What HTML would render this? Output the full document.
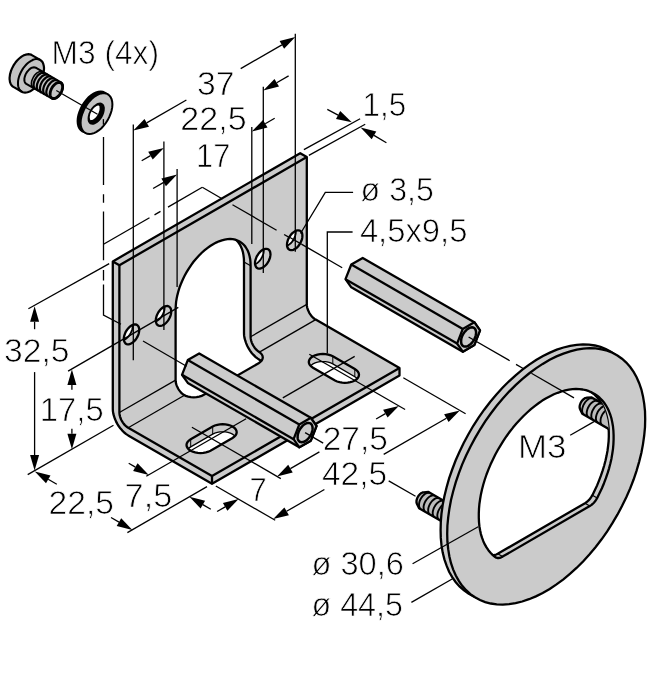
<!DOCTYPE html>
<html><head><meta charset="utf-8"><title>drawing</title>
<style>
html,body{margin:0;padding:0;background:#fff;}
svg{display:block;filter:grayscale(1);}
text{font-family:"Liberation Sans",sans-serif;fill:#000;}
</style></head><body>
<svg width="654" height="700" viewBox="0 0 654 700">
<rect width="654" height="700" fill="#fff"/>
<path d="M112.8 261.4 L300.2 153.2 L306.8 157.1 L306.8 304.4 L306.9 305.7 L307.1 307.2 L307.5 308.7 L308 310.1 L308.7 311.6 L309.4 313.1 L310.3 314.4 L311.2 315.7 L312.3 316.9 L313.4 318 L314.5 318.9 L315.7 319.6 L399.5 368 L399.5 375.6 L212 483.8 L128.2 435.4 L126.2 434.1 L124.2 432.5 L122.3 430.6 L120.5 428.6 L118.8 426.3 L117.3 423.9 L116 421.4 L114.9 418.8 L114 416.2 L113.3 413.6 L112.9 411.1 L112.8 408.7Z" fill="#cbcbcb" stroke="none"/>
<path d="M203.9 394.8 L201.7 395.9 L199.2 396.6 L196.5 397.1 L193.7 397.3 L190.9 397.1 L188.2 396.6 L185.8 395.9 L183.6 394.8 L184.5 395.3 L183.3 394.6 L182.2 393.7 L181.1 392.6 L180.1 391.4 L179.1 390.1 L178.2 388.8 L177.5 387.3 L176.8 385.9 L176.3 384.4 L175.9 382.9 L175.7 381.5 L175.6 380.1 L175.6 309 L175.8 305.5 L176.1 301.9 L176.7 298.3 L177.5 294.6 L178.5 290.8 L179.7 287 L181.2 283.2 L182.8 279.5 L184.6 275.7 L186.6 272.1 L188.8 268.6 L191.1 265.1 L193.5 261.8 L196.1 258.7 L198.8 255.7 L201.5 253 L204.4 250.4 L207.3 248.1 L210.2 246 L213.1 244.2 L216.1 242.6 L219 241.3 L221.9 240.3 L224.7 239.6 L227.5 239.2 L230.1 239 L232.7 239.2 L235.2 239.7 L237.5 240.5 L239.6 241.5 L241.6 242.8 L243.5 244.5 L245.1 246.3 L246.5 248.5 L247.8 250.8 L248.8 253.4 L249.6 256.2 L250.2 259.2 L250.5 262.4 L250.6 265.7 L250.6 336.8 L250.7 338.2 L250.9 339.6 L251.3 341.1 L251.8 342.6 L252.4 344.1 L253.2 345.5 L254.1 346.9 L255 348.2 L256.1 349.4 L257.1 350.4 L258.3 351.3 L259.4 352.1 L258.6 351.6 L260.3 352.8 L261.7 354.3 L262.5 355.8 L262.8 357.4 L262.5 359 L261.7 360.6 L260.3 362 L258.6 363.3Z" fill="#cbcbcb" stroke="none"/>
<clipPath id="carch"><path d="M203.9 394.8 L201.7 395.9 L199.2 396.6 L196.5 397.1 L193.7 397.3 L190.9 397.1 L188.2 396.6 L185.8 395.9 L183.6 394.8 L184.5 395.3 L183.3 394.6 L182.2 393.7 L181.1 392.6 L180.1 391.4 L179.1 390.1 L178.2 388.8 L177.5 387.3 L176.8 385.9 L176.3 384.4 L175.9 382.9 L175.7 381.5 L175.6 380.1 L175.6 309 L175.8 305.5 L176.1 301.9 L176.7 298.3 L177.5 294.6 L178.5 290.8 L179.7 287 L181.2 283.2 L182.8 279.5 L184.6 275.7 L186.6 272.1 L188.8 268.6 L191.1 265.1 L193.5 261.8 L196.1 258.7 L198.8 255.7 L201.5 253 L204.4 250.4 L207.3 248.1 L210.2 246 L213.1 244.2 L216.1 242.6 L219 241.3 L221.9 240.3 L224.7 239.6 L227.5 239.2 L230.1 239 L232.7 239.2 L235.2 239.7 L237.5 240.5 L239.6 241.5 L241.6 242.8 L243.5 244.5 L245.1 246.3 L246.5 248.5 L247.8 250.8 L248.8 253.4 L249.6 256.2 L250.2 259.2 L250.5 262.4 L250.6 265.7 L250.6 336.8 L250.7 338.2 L250.9 339.6 L251.3 341.1 L251.8 342.6 L252.4 344.1 L253.2 345.5 L254.1 346.9 L255 348.2 L256.1 349.4 L257.1 350.4 L258.3 351.3 L259.4 352.1 L258.6 351.6 L260.3 352.8 L261.7 354.3 L262.5 355.8 L262.8 357.4 L262.5 359 L261.7 360.6 L260.3 362 L258.6 363.3Z"/></clipPath>
<g clip-path="url(#carch)">
<path d="M207 415.9 L184.5 403 L182.4 401.6 L180.5 400 L178.6 398.2 L176.7 396.1 L175.1 393.9 L173.5 391.5 L172.2 388.9 L171.1 386.4 L170.2 383.8 L169.6 381.2 L169.2 378.7 L169 376.3 L169 305.2 L169.1 301.7 L169.5 298.1 L170.1 294.5 L170.9 290.7 L171.9 287 L173.1 283.2 L174.6 279.4 L176.2 275.6 L178 271.9 L180 268.3 L182.2 264.7 L184.5 261.3 L186.9 258 L189.5 254.9 L192.2 251.9 L194.9 249.1 L197.8 246.6 L200.6 244.3 L203.6 242.2 L206.5 240.3 L209.5 238.8 L212.4 237.5 L215.3 236.5 L218.1 235.8 L220.9 235.3 L223.5 235.2 L226.1 235.4 L228.5 235.9 L230.9 236.6 L233 237.7 L235 239 L236.8 240.6 L238.5 242.5 L239.9 244.6 L241.1 247 L242.2 249.6 L243 252.4 L243.5 255.4 L243.9 258.6 L244 261.9 L244 333 L244.1 335.4 L244.5 337.9 L245.2 340.5 L246.1 343.1 L247.2 345.7 L248.5 348.2 L250 350.6 L251.7 352.9 L253.5 354.9 L255.4 356.8 L257.4 358.4 L259.4 359.7 L281.9 372.7Z" fill="#fff" stroke="#000" stroke-width="2.3"/>
</g>
<path d="M203.9 394.8 L201.7 395.9 L199.2 396.6 L196.5 397.1 L193.7 397.3 L190.9 397.1 L188.2 396.6 L185.8 395.9 L183.6 394.8 L184.5 395.3 L183.3 394.6 L182.2 393.7 L181.1 392.6 L180.1 391.4 L179.1 390.1 L178.2 388.8 L177.5 387.3 L176.8 385.9 L176.3 384.4 L175.9 382.9 L175.7 381.5 L175.6 380.1 L175.6 309 L175.8 305.5 L176.1 301.9 L176.7 298.3 L177.5 294.6 L178.5 290.8 L179.7 287 L181.2 283.2 L182.8 279.5 L184.6 275.7 L186.6 272.1 L188.8 268.6 L191.1 265.1 L193.5 261.8 L196.1 258.7 L198.8 255.7 L201.5 253 L204.4 250.4 L207.3 248.1 L210.2 246 L213.1 244.2 L216.1 242.6 L219 241.3 L221.9 240.3 L224.7 239.6 L227.5 239.2 L230.1 239 L232.7 239.2 L235.2 239.7 L237.5 240.5 L239.6 241.5 L241.6 242.8 L243.5 244.5 L245.1 246.3 L246.5 248.5 L247.8 250.8 L248.8 253.4 L249.6 256.2 L250.2 259.2 L250.5 262.4 L250.6 265.7 L250.6 336.8 L250.7 338.2 L250.9 339.6 L251.3 341.1 L251.8 342.6 L252.4 344.1 L253.2 345.5 L254.1 346.9 L255 348.2 L256.1 349.4 L257.1 350.4 L258.3 351.3 L259.4 352.1 L258.6 351.6 L260.3 352.8 L261.7 354.3 L262.5 355.8 L262.8 357.4 L262.5 359 L261.7 360.6 L260.3 362 L258.6 363.3Z" fill="none" stroke="#000" stroke-width="2.3"/>
<path d="M250.6 265.7 L244 261.9" stroke="#000" stroke-width="1.2" fill="none" />
<path d="M112.8 261.4 L300.2 153.2 L306.8 157.1 L306.8 304.4 L306.9 305.7 L307.1 307.2 L307.5 308.7 L308 310.1 L308.7 311.6 L309.4 313.1 L310.3 314.4 L311.2 315.7 L312.3 316.9 L313.4 318 L314.5 318.9 L315.7 319.6 L399.5 368 L399.5 375.6 L212 483.8 L128.2 435.4 L126.2 434.1 L124.2 432.5 L122.3 430.6 L120.5 428.6 L118.8 426.3 L117.3 423.9 L116 421.4 L114.9 418.8 L114 416.2 L113.3 413.6 L112.9 411.1 L112.8 408.7Z" fill="none" stroke="#000" stroke-width="2.3" stroke-linejoin="round"/>
<path d="M112.8 261.4 L119.4 265.2 L306.8 157.1" fill="none" stroke="#000" stroke-width="2.3" stroke-linejoin="round"/>
<path d="M119.4 265.2 L119.4 412.5 L119.5 413.9 L119.7 415.3 L120.1 416.8 L120.6 418.3 L121.2 419.8 L122 421.2 L122.9 422.6 L123.8 423.9 L124.9 425.1 L126 426.1 L127.1 427 L128.2 427.8 L212 476.1 L399.5 368" fill="none" stroke="#000" stroke-width="2.3" stroke-linejoin="round"/>
<path d="M212 476.1 L212 483.8" stroke="#000" stroke-width="2.3" fill="none" />
<path d="M119.4 412.5 L175.6 380.1" stroke="#000" stroke-width="1.3" fill="none" />
<path d="M250.6 336.8 L306.8 304.4" stroke="#000" stroke-width="1.3" fill="none" />
<path d="M128.2 427.8 L184.5 395.3" stroke="#000" stroke-width="1.3" fill="none" />
<path d="M259.4 352.1 L315.7 319.6" stroke="#000" stroke-width="1.3" fill="none" />
<path d="M139.3 330 L139.1 328.5 L138.8 327.2 L138.2 326.1 L137.5 325.3 L136.5 324.7 L135.4 324.5 L134.2 324.5 L132.9 324.9 L131.5 325.5 L130.2 326.4 L128.9 327.6 L127.7 328.9 L126.6 330.5 L125.6 332.1 L124.9 333.8 L124.3 335.6 L123.9 337.3 L123.8 338.9 L123.9 340.3 L124.3 341.6 L124.9 342.7 L125.6 343.5 L126.6 344.1 L127.7 344.3 L128.9 344.3 L130.2 343.9 L131.5 343.3 L132.9 342.4 L134.2 341.2 L135.4 339.9 L136.5 338.4 L137.5 336.7 L138.2 335 L138.8 333.3 L139.1 331.6 L139.3 330Z" fill="#cbcbcb" stroke="none"/>
<clipPath id="ch0"><path d="M139.3 330 L139.1 328.5 L138.8 327.2 L138.2 326.1 L137.5 325.3 L136.5 324.7 L135.4 324.5 L134.2 324.5 L132.9 324.9 L131.5 325.5 L130.2 326.4 L128.9 327.6 L127.7 328.9 L126.6 330.5 L125.6 332.1 L124.9 333.8 L124.3 335.6 L123.9 337.3 L123.8 338.9 L123.9 340.3 L124.3 341.6 L124.9 342.7 L125.6 343.5 L126.6 344.1 L127.7 344.3 L128.9 344.3 L130.2 343.9 L131.5 343.3 L132.9 342.4 L134.2 341.2 L135.4 339.9 L136.5 338.4 L137.5 336.7 L138.2 335 L138.8 333.3 L139.1 331.6 L139.3 330Z"/></clipPath>
<g clip-path="url(#ch0)">
<path d="M132.6 326.1 L132.5 324.7 L132.2 323.4 L131.6 322.3 L130.8 321.5 L129.9 320.9 L128.8 320.7 L127.6 320.7 L126.3 321.1 L124.9 321.7 L123.6 322.6 L122.3 323.8 L121.1 325.1 L120 326.7 L119 328.3 L118.2 330 L117.7 331.7 L117.3 333.4 L117.2 335.1 L117.3 336.5 L117.7 337.8 L118.2 338.9 L119 339.7 L120 340.3 L121.1 340.5 L122.3 340.5 L123.6 340.1 L124.9 339.5 L126.3 338.6 L127.6 337.4 L128.8 336.1 L129.9 334.5 L130.8 332.9 L131.6 331.2 L132.2 329.5 L132.5 327.8 L132.6 326.1Z" fill="#fff" stroke="#000" stroke-width="1.8"/>
</g>
<path d="M139.3 330 L139.1 328.5 L138.8 327.2 L138.2 326.1 L137.5 325.3 L136.5 324.7 L135.4 324.5 L134.2 324.5 L132.9 324.9 L131.5 325.5 L130.2 326.4 L128.9 327.6 L127.7 328.9 L126.6 330.5 L125.6 332.1 L124.9 333.8 L124.3 335.6 L123.9 337.3 L123.8 338.9 L123.9 340.3 L124.3 341.6 L124.9 342.7 L125.6 343.5 L126.6 344.1 L127.7 344.3 L128.9 344.3 L130.2 343.9 L131.5 343.3 L132.9 342.4 L134.2 341.2 L135.4 339.9 L136.5 338.4 L137.5 336.7 L138.2 335 L138.8 333.3 L139.1 331.6 L139.3 330Z" fill="none" stroke="#000" stroke-width="2.3"/>
<path d="M171.2 311.5 L171.1 310 L170.8 308.7 L170.2 307.7 L169.4 306.8 L168.5 306.3 L167.4 306 L166.2 306.1 L164.9 306.4 L163.5 307.1 L162.2 308 L160.9 309.1 L159.7 310.5 L158.6 312 L157.6 313.7 L156.8 315.4 L156.3 317.1 L155.9 318.8 L155.8 320.4 L155.9 321.9 L156.3 323.2 L156.8 324.3 L157.6 325.1 L158.6 325.6 L159.7 325.9 L160.9 325.8 L162.2 325.5 L163.5 324.9 L164.9 323.9 L166.2 322.8 L167.4 321.4 L168.5 319.9 L169.4 318.3 L170.2 316.6 L170.8 314.8 L171.1 313.1 L171.2 311.5Z" fill="#cbcbcb" stroke="none"/>
<clipPath id="ch1"><path d="M171.2 311.5 L171.1 310 L170.8 308.7 L170.2 307.7 L169.4 306.8 L168.5 306.3 L167.4 306 L166.2 306.1 L164.9 306.4 L163.5 307.1 L162.2 308 L160.9 309.1 L159.7 310.5 L158.6 312 L157.6 313.7 L156.8 315.4 L156.3 317.1 L155.9 318.8 L155.8 320.4 L155.9 321.9 L156.3 323.2 L156.8 324.3 L157.6 325.1 L158.6 325.6 L159.7 325.9 L160.9 325.8 L162.2 325.5 L163.5 324.9 L164.9 323.9 L166.2 322.8 L167.4 321.4 L168.5 319.9 L169.4 318.3 L170.2 316.6 L170.8 314.8 L171.1 313.1 L171.2 311.5Z"/></clipPath>
<g clip-path="url(#ch1)">
<path d="M164.6 307.7 L164.5 306.2 L164.2 304.9 L163.6 303.8 L162.8 303 L161.9 302.5 L160.8 302.2 L159.5 302.3 L158.2 302.6 L156.9 303.3 L155.6 304.2 L154.3 305.3 L153 306.7 L151.9 308.2 L151 309.8 L150.2 311.6 L149.6 313.3 L149.3 315 L149.2 316.6 L149.3 318.1 L149.6 319.4 L150.2 320.5 L151 321.3 L151.9 321.8 L153 322.1 L154.3 322 L155.6 321.7 L156.9 321 L158.2 320.1 L159.5 319 L160.8 317.6 L161.9 316.1 L162.8 314.5 L163.6 312.7 L164.2 311 L164.5 309.3 L164.6 307.7Z" fill="#fff" stroke="#000" stroke-width="1.8"/>
</g>
<path d="M171.2 311.5 L171.1 310 L170.8 308.7 L170.2 307.7 L169.4 306.8 L168.5 306.3 L167.4 306 L166.2 306.1 L164.9 306.4 L163.5 307.1 L162.2 308 L160.9 309.1 L159.7 310.5 L158.6 312 L157.6 313.7 L156.8 315.4 L156.3 317.1 L155.9 318.8 L155.8 320.4 L155.9 321.9 L156.3 323.2 L156.8 324.3 L157.6 325.1 L158.6 325.6 L159.7 325.9 L160.9 325.8 L162.2 325.5 L163.5 324.9 L164.9 323.9 L166.2 322.8 L167.4 321.4 L168.5 319.9 L169.4 318.3 L170.2 316.6 L170.8 314.8 L171.1 313.1 L171.2 311.5Z" fill="none" stroke="#000" stroke-width="2.3"/>
<path d="M270.5 254.3 L270.3 252.8 L270 251.5 L269.4 250.4 L268.7 249.6 L267.7 249 L266.6 248.8 L265.4 248.8 L264.1 249.2 L262.7 249.8 L261.4 250.7 L260.1 251.9 L258.9 253.2 L257.8 254.8 L256.8 256.4 L256.1 258.1 L255.5 259.8 L255.1 261.5 L255 263.2 L255.1 264.6 L255.5 265.9 L256.1 267 L256.8 267.8 L257.8 268.4 L258.9 268.6 L260.1 268.6 L261.4 268.2 L262.7 267.6 L264.1 266.7 L265.4 265.5 L266.6 264.2 L267.7 262.7 L268.7 261 L269.4 259.3 L270 257.6 L270.3 255.9 L270.5 254.3Z" fill="#cbcbcb" stroke="none"/>
<clipPath id="ch2"><path d="M270.5 254.3 L270.3 252.8 L270 251.5 L269.4 250.4 L268.7 249.6 L267.7 249 L266.6 248.8 L265.4 248.8 L264.1 249.2 L262.7 249.8 L261.4 250.7 L260.1 251.9 L258.9 253.2 L257.8 254.8 L256.8 256.4 L256.1 258.1 L255.5 259.8 L255.1 261.5 L255 263.2 L255.1 264.6 L255.5 265.9 L256.1 267 L256.8 267.8 L257.8 268.4 L258.9 268.6 L260.1 268.6 L261.4 268.2 L262.7 267.6 L264.1 266.7 L265.4 265.5 L266.6 264.2 L267.7 262.7 L268.7 261 L269.4 259.3 L270 257.6 L270.3 255.9 L270.5 254.3Z"/></clipPath>
<g clip-path="url(#ch2)">
<path d="M263.8 250.4 L263.7 249 L263.4 247.7 L262.8 246.6 L262 245.8 L261.1 245.2 L260 245 L258.8 245 L257.5 245.4 L256.1 246 L254.8 246.9 L253.5 248.1 L252.3 249.4 L251.2 250.9 L250.2 252.6 L249.4 254.3 L248.9 256 L248.5 257.7 L248.4 259.3 L248.5 260.8 L248.9 262.1 L249.4 263.2 L250.2 264 L251.2 264.6 L252.3 264.8 L253.5 264.8 L254.8 264.4 L256.1 263.8 L257.5 262.9 L258.8 261.7 L260 260.4 L261.1 258.8 L262 257.2 L262.8 255.5 L263.4 253.7 L263.7 252 L263.8 250.4Z" fill="#fff" stroke="#000" stroke-width="1.8"/>
</g>
<path d="M270.5 254.3 L270.3 252.8 L270 251.5 L269.4 250.4 L268.7 249.6 L267.7 249 L266.6 248.8 L265.4 248.8 L264.1 249.2 L262.7 249.8 L261.4 250.7 L260.1 251.9 L258.9 253.2 L257.8 254.8 L256.8 256.4 L256.1 258.1 L255.5 259.8 L255.1 261.5 L255 263.2 L255.1 264.6 L255.5 265.9 L256.1 267 L256.8 267.8 L257.8 268.4 L258.9 268.6 L260.1 268.6 L261.4 268.2 L262.7 267.6 L264.1 266.7 L265.4 265.5 L266.6 264.2 L267.7 262.7 L268.7 261 L269.4 259.3 L270 257.6 L270.3 255.9 L270.5 254.3Z" fill="none" stroke="#000" stroke-width="2.3"/>
<path d="M302.4 235.8 L302.3 234.3 L302 233 L301.4 232 L300.6 231.1 L299.7 230.6 L298.6 230.3 L297.4 230.4 L296.1 230.7 L294.7 231.4 L293.4 232.3 L292.1 233.4 L290.9 234.8 L289.8 236.3 L288.8 238 L288 239.7 L287.5 241.4 L287.1 243.1 L287 244.7 L287.1 246.2 L287.5 247.5 L288 248.6 L288.8 249.4 L289.8 249.9 L290.9 250.2 L292.1 250.1 L293.4 249.8 L294.7 249.1 L296.1 248.2 L297.4 247.1 L298.6 245.7 L299.7 244.2 L300.6 242.6 L301.4 240.8 L302 239.1 L302.3 237.4 L302.4 235.8Z" fill="#cbcbcb" stroke="none"/>
<clipPath id="ch3"><path d="M302.4 235.8 L302.3 234.3 L302 233 L301.4 232 L300.6 231.1 L299.7 230.6 L298.6 230.3 L297.4 230.4 L296.1 230.7 L294.7 231.4 L293.4 232.3 L292.1 233.4 L290.9 234.8 L289.8 236.3 L288.8 238 L288 239.7 L287.5 241.4 L287.1 243.1 L287 244.7 L287.1 246.2 L287.5 247.5 L288 248.6 L288.8 249.4 L289.8 249.9 L290.9 250.2 L292.1 250.1 L293.4 249.8 L294.7 249.1 L296.1 248.2 L297.4 247.1 L298.6 245.7 L299.7 244.2 L300.6 242.6 L301.4 240.8 L302 239.1 L302.3 237.4 L302.4 235.8Z"/></clipPath>
<g clip-path="url(#ch3)">
<path d="M295.8 232 L295.7 230.5 L295.3 229.2 L294.8 228.1 L294 227.3 L293.1 226.8 L292 226.5 L290.7 226.6 L289.4 226.9 L288.1 227.5 L286.8 228.5 L285.5 229.6 L284.2 231 L283.1 232.5 L282.2 234.1 L281.4 235.8 L280.8 237.6 L280.5 239.3 L280.4 240.9 L280.5 242.4 L280.8 243.7 L281.4 244.7 L282.2 245.6 L283.1 246.1 L284.2 246.4 L285.5 246.3 L286.8 246 L288.1 245.3 L289.4 244.4 L290.7 243.3 L292 241.9 L293.1 240.4 L294 238.7 L294.8 237 L295.3 235.3 L295.7 233.6 L295.8 232Z" fill="#fff" stroke="#000" stroke-width="1.8"/>
</g>
<path d="M302.4 235.8 L302.3 234.3 L302 233 L301.4 232 L300.6 231.1 L299.7 230.6 L298.6 230.3 L297.4 230.4 L296.1 230.7 L294.7 231.4 L293.4 232.3 L292.1 233.4 L290.9 234.8 L289.8 236.3 L288.8 238 L288 239.7 L287.5 241.4 L287.1 243.1 L287 244.7 L287.1 246.2 L287.5 247.5 L288 248.6 L288.8 249.4 L289.8 249.9 L290.9 250.2 L292.1 250.1 L293.4 249.8 L294.7 249.1 L296.1 248.2 L297.4 247.1 L298.6 245.7 L299.7 244.2 L300.6 242.6 L301.4 240.8 L302 239.1 L302.3 237.4 L302.4 235.8Z" fill="none" stroke="#000" stroke-width="2.3"/>
<path d="M190.7 439.2 L212.7 426.5 L214.8 425.5 L217.3 424.8 L219.9 424.3 L222.6 424.1 L225.4 424.3 L228 424.8 L230.4 425.5 L232.5 426.5 L234.3 427.7 L235.6 429.1 L236.4 430.7 L236.7 432.2 L236.4 433.8 L235.6 435.3 L234.3 436.7 L232.5 438 L210.5 450.7 L208.4 451.7 L205.9 452.4 L203.3 452.9 L200.6 453.1 L197.8 452.9 L195.2 452.4 L192.8 451.7 L190.7 450.7 L188.9 449.5 L187.6 448.1 L186.8 446.5 L186.5 445 L186.8 443.4 L187.6 441.9 L188.9 440.5 L190.7 439.2Z" fill="#cbcbcb" stroke="none"/>
<clipPath id="c732"><path d="M190.7 439.2 L212.7 426.5 L214.8 425.5 L217.3 424.8 L219.9 424.3 L222.6 424.1 L225.4 424.3 L228 424.8 L230.4 425.5 L232.5 426.5 L234.3 427.7 L235.6 429.1 L236.4 430.7 L236.7 432.2 L236.4 433.8 L235.6 435.3 L234.3 436.7 L232.5 438 L210.5 450.7 L208.4 451.7 L205.9 452.4 L203.3 452.9 L200.6 453.1 L197.8 452.9 L195.2 452.4 L192.8 451.7 L190.7 450.7 L188.9 449.5 L187.6 448.1 L186.8 446.5 L186.5 445 L186.8 443.4 L187.6 441.9 L188.9 440.5 L190.7 439.2Z"/></clipPath>
<g clip-path="url(#c732)">
<path d="M190.7 446.9 L212.7 434.1 L214.8 433.1 L217.3 432.4 L219.9 431.9 L222.6 431.8 L225.4 431.9 L228 432.4 L230.4 433.1 L232.5 434.1 L234.3 435.4 L235.6 436.8 L236.4 438.3 L236.7 439.9 L236.4 441.4 L235.6 443 L234.3 444.4 L232.5 445.6 L210.5 458.3 L208.4 459.3 L205.9 460.1 L203.3 460.5 L200.6 460.7 L197.8 460.5 L195.2 460.1 L192.8 459.3 L190.7 458.3 L188.9 457.1 L187.6 455.7 L186.8 454.2 L186.5 452.6 L186.8 451 L187.6 449.5 L188.9 448.1 L190.7 446.9Z" fill="#fff" stroke="#000" stroke-width="1.3"/>
<path d="M190.7 439.2 L190.7 446.9" stroke="#000" stroke-width="1" fill="none" />
<path d="M212.7 426.5 L212.7 434.1" stroke="#000" stroke-width="1" fill="none" />
</g>
<path d="M190.7 439.2 L212.7 426.5 L214.8 425.5 L217.3 424.8 L219.9 424.3 L222.6 424.1 L225.4 424.3 L228 424.8 L230.4 425.5 L232.5 426.5 L234.3 427.7 L235.6 429.1 L236.4 430.7 L236.7 432.2 L236.4 433.8 L235.6 435.3 L234.3 436.7 L232.5 438 L210.5 450.7 L208.4 451.7 L205.9 452.4 L203.3 452.9 L200.6 453.1 L197.8 452.9 L195.2 452.4 L192.8 451.7 L190.7 450.7 L188.9 449.5 L187.6 448.1 L186.8 446.5 L186.5 445 L186.8 443.4 L187.6 441.9 L188.9 440.5 L190.7 439.2Z" fill="none" stroke="#000" stroke-width="2.3"/>
<path d="M332.8 356.3 L354.8 369 L356.6 370.3 L357.9 371.7 L358.7 373.2 L359 374.8 L358.7 376.3 L357.9 377.9 L356.6 379.3 L354.8 380.5 L352.7 381.5 L350.3 382.2 L347.7 382.7 L344.9 382.9 L342.2 382.7 L339.6 382.2 L337.1 381.5 L335 380.5 L313 367.8 L311.2 366.5 L309.9 365.1 L309.1 363.6 L308.8 362 L309.1 360.5 L309.9 358.9 L311.2 357.5 L313 356.3 L315.1 355.3 L317.5 354.6 L320.1 354.1 L322.9 353.9 L325.6 354.1 L328.2 354.6 L330.7 355.3 L332.8 356.3Z" fill="#cbcbcb" stroke="none"/>
<clipPath id="c3498"><path d="M332.8 356.3 L354.8 369 L356.6 370.3 L357.9 371.7 L358.7 373.2 L359 374.8 L358.7 376.3 L357.9 377.9 L356.6 379.3 L354.8 380.5 L352.7 381.5 L350.3 382.2 L347.7 382.7 L344.9 382.9 L342.2 382.7 L339.6 382.2 L337.1 381.5 L335 380.5 L313 367.8 L311.2 366.5 L309.9 365.1 L309.1 363.6 L308.8 362 L309.1 360.5 L309.9 358.9 L311.2 357.5 L313 356.3 L315.1 355.3 L317.5 354.6 L320.1 354.1 L322.9 353.9 L325.6 354.1 L328.2 354.6 L330.7 355.3 L332.8 356.3Z"/></clipPath>
<g clip-path="url(#c3498)">
<path d="M332.8 363.9 L354.8 376.7 L356.6 377.9 L357.9 379.3 L358.7 380.8 L359 382.4 L358.7 384 L357.9 385.5 L356.6 386.9 L354.8 388.1 L352.7 389.1 L350.3 389.9 L347.7 390.3 L344.9 390.5 L342.2 390.3 L339.6 389.9 L337.1 389.1 L335 388.1 L313 375.4 L311.2 374.2 L309.9 372.8 L309.1 371.2 L308.8 369.7 L309.1 368.1 L309.9 366.6 L311.2 365.2 L313 363.9 L315.1 362.9 L317.5 362.2 L320.1 361.7 L322.9 361.6 L325.6 361.7 L328.2 362.2 L330.7 362.9 L332.8 363.9Z" fill="#fff" stroke="#000" stroke-width="1.3"/>
<path d="M332.8 356.3 L332.8 363.9" stroke="#000" stroke-width="1" fill="none" />
<path d="M354.8 369 L354.8 376.7" stroke="#000" stroke-width="1" fill="none" />
</g>
<path d="M332.8 356.3 L354.8 369 L356.6 370.3 L357.9 371.7 L358.7 373.2 L359 374.8 L358.7 376.3 L357.9 377.9 L356.6 379.3 L354.8 380.5 L352.7 381.5 L350.3 382.2 L347.7 382.7 L344.9 382.9 L342.2 382.7 L339.6 382.2 L337.1 381.5 L335 380.5 L313 367.8 L311.2 366.5 L309.9 365.1 L309.1 363.6 L308.8 362 L309.1 360.5 L309.9 358.9 L311.2 357.5 L313 356.3 L315.1 355.3 L317.5 354.6 L320.1 354.1 L322.9 353.9 L325.6 354.1 L328.2 354.6 L330.7 355.3 L332.8 356.3Z" fill="none" stroke="#000" stroke-width="2.3"/>
<path d="M199.2 353.5 L187.8 360.1 L182 374.8 L187.8 382.9 L299.3 447.3 L310.8 440.7 L316.5 426 L310.8 417.8Z" fill="#cbcbcb" stroke="#000" stroke-width="2.3" stroke-linejoin="round"/>
<path d="M187.8 360.1 L299.3 424.5" fill="none" stroke="#000" stroke-width="2.3"/>
<path d="M182 374.8 L293.6 439.2" fill="none" stroke="#000" stroke-width="2.3"/>
<path d="M316.5 426 L310.8 417.8 L299.3 424.5 L293.6 439.2 L299.3 447.3 L310.8 440.7Z" fill="#cbcbcb" stroke="#000" stroke-width="2.3" stroke-linejoin="round"/>
<path d="M312.6 428.3 L312.5 427 L312.2 425.8 L311.8 424.8 L311.1 424 L310.4 423.4 L309.5 423.1 L308.5 422.9 L307.4 423 L306.2 423.4 L305.1 424 L303.9 424.7 L302.8 425.7 L301.7 426.9 L300.7 428.1 L299.8 429.5 L299 431 L298.4 432.5 L297.9 434 L297.7 435.5 L297.6 436.9 L297.7 438.2 L297.9 439.4 L298.4 440.4 L299 441.2 L299.8 441.8 L300.7 442.1 L301.7 442.2 L302.8 442.1 L303.9 441.8 L305.1 441.2 L306.2 440.4 L307.4 439.5 L308.5 438.3 L309.5 437 L310.4 435.6 L311.1 434.2 L311.8 432.7 L312.2 431.1 L312.5 429.7 L312.6 428.3Z" fill="#cbcbcb" stroke="#000" stroke-width="2.5"/>
<path d="M462.7 511.8 L428.5 492 L423.7 492.4 L423 492.4 L422.2 492.7 L421.5 493 L420.7 493.5 L419.9 494.2 L419.2 495 L418.5 495.8 L417.9 496.8 L417.4 497.7 L417 498.8 L416.7 499.8 L416.5 500.8 L416.5 501.7 L416.5 502.6 L416.7 503.3 L417 504 L419.1 508.3 L453.3 528 L454 528.3 L454.7 528.5 L455.5 528.4 L456.3 528.3 L457.1 528 L458 527.6 L458.9 527 L459.7 526.3 L460.5 525.5 L461.3 524.6 L462 523.6 L462.7 522.6 L463.2 521.5 L463.7 520.4 L464.1 519.3 L464.4 518.2 L464.6 517.1 L464.6 516.1 L464.6 515.1 L464.4 514.2 L464.1 513.4 L463.7 512.7 L463.2 512.2 L462.7 511.8Z" fill="#bcbcbc" stroke="#000" stroke-width="2.3" stroke-linejoin="round"/>
<path d="M429.7 492.8 L428.5 492.6 L427.2 492.8 L425.9 493.4 L424.5 494.3 L423.2 495.5 L422 496.9 L420.9 498.5 L420 500.2 L419.4 502 L419.1 503.7 L419 505.4 L419.2 506.8 L419.6 508 L420.4 508.9" fill="none" stroke="#000" stroke-width="1.9"/>
<path d="M434.2 495.4 L433.1 495.3 L431.8 495.5 L430.5 496 L429.1 496.9 L427.8 498.1 L426.6 499.5 L425.5 501.1 L424.6 502.9 L424 504.6 L423.6 506.4 L423.6 508 L423.8 509.4 L424.2 510.7 L425 511.6" fill="none" stroke="#000" stroke-width="1.9"/>
<path d="M438.8 498.1 L437.7 497.9 L436.4 498.1 L435 498.7 L433.7 499.6 L432.4 500.7 L431.1 502.2 L430.1 503.8 L429.2 505.5 L428.6 507.3 L428.2 509 L428.2 510.6 L428.3 512.1 L428.8 513.3 L429.5 514.2" fill="none" stroke="#000" stroke-width="1.9"/>
<path d="M443.4 500.7 L442.3 500.6 L441 500.8 L439.6 501.3 L438.3 502.2 L436.9 503.4 L435.7 504.8 L434.7 506.4 L433.8 508.2 L433.2 509.9 L432.8 511.7 L432.7 513.3 L432.9 514.7 L433.4 516 L434.1 516.9" fill="none" stroke="#000" stroke-width="1.9"/>
<path d="M448 503.4 L446.8 503.2 L445.6 503.4 L444.2 504 L442.8 504.9 L441.5 506 L440.3 507.5 L439.3 509.1 L438.4 510.8 L437.8 512.6 L437.4 514.3 L437.3 515.9 L437.5 517.4 L438 518.6 L438.7 519.5" fill="none" stroke="#000" stroke-width="1.9"/>
<path d="M638.6 415.2 L638.3 407.3 L637.6 399.8 L636.4 392.6 L634.8 385.8 L632.6 379.4 L630 373.5 L627 368.1 L623.5 363.1 L619.7 358.8 L615.4 354.9 L610.8 351.7 L605.8 349 L600.5 346.9 L594.9 345.5 L589.1 344.6 L583 344.4 L576.7 344.8 L570.2 345.8 L563.5 347.5 L556.8 349.7 L549.9 352.6 L543 356 L536.1 360 L529.2 364.6 L522.4 369.7 L515.6 375.3 L509 381.3 L502.5 387.8 L496.2 394.7 L490.1 402 L484.2 409.7 L478.6 417.6 L473.3 425.8 L468.4 434.3 L463.7 442.9 L459.5 451.7 L455.6 460.5 L452.2 469.5 L449.1 478.4 L446.6 487.3 L444.4 496.2 L442.7 504.9 L441.5 513.5 L440.8 521.9 L440.6 530 L440.8 537.9 L441.5 545.4 L442.7 552.6 L444.4 559.4 L446.6 565.7 L449.1 571.7 L452.2 577.1 L455.6 582 L459.5 586.4 L463.7 590.2 L468.4 593.5 L473.3 596.2 L478.6 598.3 L484.2 599.7 L490.1 600.6 L496.2 600.8 L502.5 600.4 L509 599.3 L515.6 597.7 L522.4 595.4 L529.2 592.6 L536.1 589.1 L543 585.1 L549.9 580.6 L556.8 575.5 L563.5 569.9 L570.2 563.8 L576.7 557.3 L583 550.4 L589.1 543.1 L594.9 535.5 L600.5 527.5 L605.8 519.3 L610.8 510.9 L615.4 502.3 L619.7 493.5 L623.5 484.6 L627 475.7 L630 466.7 L632.6 457.8 L634.8 449 L636.4 440.2 L637.6 431.7 L638.3 423.3 L638.6 415.2Z" fill="#cbcbcb" stroke="#000" stroke-width="2.3"/>
<path d="M645.2 419 L645 411.1 L644.2 403.6 L643 396.4 L641.4 389.6 L639.2 383.2 L636.6 377.3 L633.6 371.9 L630.2 367 L626.3 362.6 L622 358.7 L617.4 355.5 L612.4 352.8 L607.2 350.7 L601.6 349.3 L595.7 348.4 L589.6 348.2 L583.3 348.6 L576.8 349.6 L570.2 351.3 L563.4 353.6 L556.5 356.4 L549.7 359.8 L542.7 363.9 L535.9 368.4 L529 373.5 L522.2 379.1 L515.6 385.1 L509.1 391.6 L502.8 398.6 L496.7 405.8 L490.8 413.5 L485.2 421.4 L480 429.6 L475 438.1 L470.4 446.7 L466.1 455.5 L462.2 464.4 L458.8 473.3 L455.8 482.2 L453.2 491.2 L451 500 L449.4 508.7 L448.2 517.3 L447.4 525.7 L447.2 533.8 L447.4 541.7 L448.2 549.2 L449.4 556.4 L451 563.2 L453.2 569.6 L455.8 575.5 L458.8 580.9 L462.2 585.8 L466.1 590.2 L470.4 594.1 L475 597.3 L480 600 L485.2 602.1 L490.8 603.5 L496.7 604.4 L502.8 604.6 L509.1 604.2 L515.6 603.2 L522.2 601.5 L529 599.2 L535.9 596.4 L542.7 593 L549.7 588.9 L556.5 584.4 L563.4 579.3 L570.2 573.7 L576.8 567.7 L583.3 561.2 L589.6 554.2 L595.7 547 L601.6 539.3 L607.2 531.4 L612.4 523.2 L617.4 514.7 L622 506.1 L626.3 497.3 L630.2 488.4 L633.6 479.5 L636.6 470.6 L639.2 461.6 L641.4 452.8 L643 444.1 L644.2 435.5 L645 427.1 L645.2 419Z" fill="#cbcbcb" stroke="#000" stroke-width="2.3"/>
<clipPath id="crf"><path d="M597.2 498 L599.6 493.1 L601.9 488.2 L604 483.2 L605.9 478.2 L607.6 473.2 L609.1 468.3 L610.4 463.3 L611.5 458.4 L612.3 453.5 L613 448.8 L613.4 444.1 L613.6 439.5 L613.6 435 L613.4 430.7 L613 426.5 L612.3 422.5 L611.5 418.7 L610.4 415 L609.1 411.6 L607.6 408.3 L605.9 405.3 L604 402.5 L601.9 400 L599.6 397.7 L597.2 395.7 L594.6 393.9 L591.8 392.4 L588.9 391.2 L585.9 390.2 L582.7 389.5 L579.4 389.1 L576 389 L572.5 389.2 L568.9 389.7 L565.2 390.4 L561.5 391.5 L557.7 392.8 L553.9 394.3 L550.1 396.2 L546.2 398.3 L542.3 400.6 L538.5 403.3 L534.7 406.1 L530.9 409.2 L527.2 412.5 L523.5 416 L519.9 419.7 L516.4 423.6 L513 427.6 L509.7 431.8 L506.5 436.2 L503.5 440.7 L500.6 445.3 L497.8 450 L495.2 454.8 L492.8 459.7 L490.5 464.6 L488.4 469.6 L486.5 474.5 L484.8 479.5 L483.3 484.5 L482 489.5 L480.9 494.4 L480.1 499.2 L479.4 504 L479 508.7 L478.8 513.3 L478.8 517.7 L479 522.1 L479.4 526.2 L480.1 530.3 L480.9 534.1 L482 537.7 L483.3 541.2 L484.8 544.4 L486.5 547.4 L488.4 550.2 L490.5 552.8 L492.8 555.1 L495.2 557.1 L496.2 557.7 L497.3 558 L498.5 558 L499.8 557.8 L501.2 557.3 L502.6 556.6 L589.8 506 L591.2 505.1 L592.6 504 L593.9 502.7 L595.1 501.3 L596.2 499.7Z"/></clipPath>
<clipPath id="crb"><path d="M592.4 495.2 L594.8 490.3 L597.1 485.4 L599.1 480.4 L601 475.4 L602.7 470.4 L604.2 465.5 L605.5 460.5 L606.6 455.6 L607.5 450.7 L608.1 446 L608.6 441.3 L608.8 436.7 L608.8 432.2 L608.6 427.9 L608.1 423.7 L607.5 419.7 L606.6 415.9 L605.5 412.2 L604.2 408.8 L602.7 405.5 L601 402.5 L599.1 399.7 L597 397.2 L594.8 394.9 L592.3 392.9 L589.7 391.1 L587 389.6 L584.1 388.4 L581 387.4 L577.8 386.7 L574.5 386.3 L571.1 386.2 L567.6 386.4 L564 386.9 L560.4 387.6 L556.6 388.7 L552.9 390 L549 391.5 L545.2 393.4 L541.3 395.5 L537.5 397.8 L533.7 400.5 L529.8 403.3 L526.1 406.4 L522.3 409.7 L518.7 413.2 L515.1 416.9 L511.6 420.8 L508.2 424.8 L504.9 429 L501.7 433.4 L498.6 437.9 L495.7 442.5 L493 447.2 L490.4 452 L487.9 456.9 L485.7 461.8 L483.6 466.8 L481.7 471.7 L480 476.7 L478.5 481.7 L477.2 486.7 L476.1 491.6 L475.2 496.4 L474.6 501.2 L474.1 505.9 L473.9 510.5 L473.9 514.9 L474.1 519.3 L474.6 523.4 L475.2 527.5 L476.1 531.3 L477.2 534.9 L478.5 538.4 L480 541.6 L481.7 544.7 L483.6 547.4 L485.6 550 L487.9 552.3 L490.3 554.3 L491.4 554.9 L492.5 555.2 L493.7 555.2 L495 555 L496.3 554.5 L497.7 553.8 L585 503.2 L586.4 502.3 L587.7 501.2 L589 499.9 L590.2 498.5 L591.3 496.9Z"/></clipPath>
<g clip-path="url(#crf)">
<path d="M592.4 495.2 L594.8 490.3 L597.1 485.4 L599.1 480.4 L601 475.4 L602.7 470.4 L604.2 465.5 L605.5 460.5 L606.6 455.6 L607.5 450.7 L608.1 446 L608.6 441.3 L608.8 436.7 L608.8 432.2 L608.6 427.9 L608.1 423.7 L607.5 419.7 L606.6 415.9 L605.5 412.2 L604.2 408.8 L602.7 405.5 L601 402.5 L599.1 399.7 L597 397.2 L594.8 394.9 L592.3 392.9 L589.7 391.1 L587 389.6 L584.1 388.4 L581 387.4 L577.8 386.7 L574.5 386.3 L571.1 386.2 L567.6 386.4 L564 386.9 L560.4 387.6 L556.6 388.7 L552.9 390 L549 391.5 L545.2 393.4 L541.3 395.5 L537.5 397.8 L533.7 400.5 L529.8 403.3 L526.1 406.4 L522.3 409.7 L518.7 413.2 L515.1 416.9 L511.6 420.8 L508.2 424.8 L504.9 429 L501.7 433.4 L498.6 437.9 L495.7 442.5 L493 447.2 L490.4 452 L487.9 456.9 L485.7 461.8 L483.6 466.8 L481.7 471.7 L480 476.7 L478.5 481.7 L477.2 486.7 L476.1 491.6 L475.2 496.4 L474.6 501.2 L474.1 505.9 L473.9 510.5 L473.9 514.9 L474.1 519.3 L474.6 523.4 L475.2 527.5 L476.1 531.3 L477.2 534.9 L478.5 538.4 L480 541.6 L481.7 544.7 L483.6 547.4 L485.6 550 L487.9 552.3 L490.3 554.3 L491.4 554.9 L492.5 555.2 L493.7 555.2 L495 555 L496.3 554.5 L497.7 553.8 L585 503.2 L586.4 502.3 L587.7 501.2 L589 499.9 L590.2 498.5 L591.3 496.9Z" fill="#fff" stroke="#000" stroke-width="2.3"/>
<path d="M495.2 557.1 L490.3 554.3" stroke="#000" stroke-width="1.2" fill="none" />
<path d="M502.6 556.6 L497.7 553.8" stroke="#000" stroke-width="1.2" fill="none" />
<path d="M589.8 506 L585 503.2" stroke="#000" stroke-width="1.2" fill="none" />
<path d="M597.2 498 L592.4 495.2" stroke="#000" stroke-width="1.2" fill="none" />
<g clip-path="url(#crb)">
<path d="M625.8 417.1 L591.7 397.4 L586.9 397.7 L586.2 397.8 L585.4 398 L584.6 398.4 L583.8 398.9 L583.1 399.6 L582.3 400.3 L581.7 401.2 L581.1 402.1 L580.6 403.1 L580.2 404.1 L579.9 405.1 L579.7 406.1 L579.6 407.1 L579.7 407.9 L579.9 408.7 L580.2 409.4 L582.3 413.7 L616.5 433.4 L617.1 433.7 L617.9 433.8 L618.6 433.8 L619.5 433.7 L620.3 433.4 L621.2 432.9 L622 432.4 L622.9 431.7 L623.7 430.9 L624.5 430 L625.2 429 L625.8 428 L626.4 426.9 L626.9 425.8 L627.3 424.7 L627.6 423.5 L627.7 422.5 L627.8 421.4 L627.7 420.5 L627.6 419.6 L627.3 418.8 L626.9 418.1 L626.4 417.6 L625.8 417.1Z" fill="#bcbcbc" stroke="#000" stroke-width="2.3" stroke-linejoin="round"/>
<path d="M592.8 398.2 L591.7 398 L590.4 398.2 L589 398.7 L587.7 399.6 L586.4 400.8 L585.1 402.2 L584.1 403.9 L583.2 405.6 L582.6 407.4 L582.2 409.1 L582.1 410.7 L582.3 412.2 L582.8 413.4 L583.5 414.3" fill="none" stroke="#000" stroke-width="1.9"/>
<path d="M597.4 400.8 L596.3 400.6 L595 400.8 L593.6 401.4 L592.3 402.3 L590.9 403.5 L589.7 404.9 L588.7 406.5 L587.8 408.2 L587.2 410 L586.8 411.7 L586.7 413.4 L586.9 414.8 L587.4 416 L588.1 416.9" fill="none" stroke="#000" stroke-width="1.9"/>
<path d="M602 403.5 L600.8 403.3 L599.6 403.5 L598.2 404 L596.8 404.9 L595.5 406.1 L594.3 407.5 L593.3 409.2 L592.4 410.9 L591.8 412.6 L591.4 414.4 L591.3 416 L591.5 417.5 L592 418.7 L592.7 419.6" fill="none" stroke="#000" stroke-width="1.9"/>
<path d="M606.6 406.1 L605.4 405.9 L604.1 406.1 L602.8 406.7 L601.4 407.6 L600.1 408.8 L598.9 410.2 L597.8 411.8 L597 413.5 L596.4 415.3 L596 417 L595.9 418.7 L596.1 420.1 L596.6 421.3 L597.3 422.2" fill="none" stroke="#000" stroke-width="1.9"/>
<path d="M611.2 408.7 L610 408.6 L608.7 408.8 L607.4 409.3 L606 410.2 L604.7 411.4 L603.5 412.8 L602.4 414.4 L601.6 416.2 L600.9 417.9 L600.6 419.7 L600.5 421.3 L600.7 422.8 L601.2 424 L601.9 424.9" fill="none" stroke="#000" stroke-width="1.9"/>
</g></g>
<path d="M597.2 498 L599.6 493.1 L601.9 488.2 L604 483.2 L605.9 478.2 L607.6 473.2 L609.1 468.3 L610.4 463.3 L611.5 458.4 L612.3 453.5 L613 448.8 L613.4 444.1 L613.6 439.5 L613.6 435 L613.4 430.7 L613 426.5 L612.3 422.5 L611.5 418.7 L610.4 415 L609.1 411.6 L607.6 408.3 L605.9 405.3 L604 402.5 L601.9 400 L599.6 397.7 L597.2 395.7 L594.6 393.9 L591.8 392.4 L588.9 391.2 L585.9 390.2 L582.7 389.5 L579.4 389.1 L576 389 L572.5 389.2 L568.9 389.7 L565.2 390.4 L561.5 391.5 L557.7 392.8 L553.9 394.3 L550.1 396.2 L546.2 398.3 L542.3 400.6 L538.5 403.3 L534.7 406.1 L530.9 409.2 L527.2 412.5 L523.5 416 L519.9 419.7 L516.4 423.6 L513 427.6 L509.7 431.8 L506.5 436.2 L503.5 440.7 L500.6 445.3 L497.8 450 L495.2 454.8 L492.8 459.7 L490.5 464.6 L488.4 469.6 L486.5 474.5 L484.8 479.5 L483.3 484.5 L482 489.5 L480.9 494.4 L480.1 499.2 L479.4 504 L479 508.7 L478.8 513.3 L478.8 517.7 L479 522.1 L479.4 526.2 L480.1 530.3 L480.9 534.1 L482 537.7 L483.3 541.2 L484.8 544.4 L486.5 547.4 L488.4 550.2 L490.5 552.8 L492.8 555.1 L495.2 557.1 L496.2 557.7 L497.3 558 L498.5 558 L499.8 557.8 L501.2 557.3 L502.6 556.6 L589.8 506 L591.2 505.1 L592.6 504 L593.9 502.7 L595.1 501.3 L596.2 499.7Z" fill="none" stroke="#000" stroke-width="2.3" stroke-linejoin="round"/>
<path d="M362.7 257.9 L351.3 264.5 L345.5 279.2 L351.3 287.3 L462.8 351.7 L474.3 345.1 L480 330.4 L474.3 322.2Z" fill="#cbcbcb" stroke="#000" stroke-width="2.3" stroke-linejoin="round"/>
<path d="M351.3 264.5 L462.8 328.9" fill="none" stroke="#000" stroke-width="2.3"/>
<path d="M345.5 279.2 L457.1 343.6" fill="none" stroke="#000" stroke-width="2.3"/>
<path d="M480 330.4 L474.3 322.2 L462.8 328.9 L457.1 343.6 L462.8 351.7 L474.3 345.1Z" fill="#cbcbcb" stroke="#000" stroke-width="2.3" stroke-linejoin="round"/>
<path d="M476.1 332.7 L476 331.4 L475.7 330.2 L475.3 329.2 L474.6 328.4 L473.9 327.8 L473 327.5 L472 327.3 L470.9 327.4 L469.7 327.8 L468.6 328.4 L467.4 329.1 L466.3 330.1 L465.2 331.3 L464.2 332.5 L463.3 333.9 L462.5 335.4 L461.9 336.9 L461.4 338.4 L461.2 339.9 L461.1 341.3 L461.2 342.6 L461.4 343.8 L461.9 344.8 L462.5 345.6 L463.3 346.2 L464.2 346.5 L465.2 346.6 L466.3 346.5 L467.4 346.2 L468.6 345.6 L469.7 344.8 L470.9 343.9 L472 342.7 L473 341.4 L473.9 340 L474.6 338.6 L475.3 337.1 L475.7 335.5 L476 334.1 L476.1 332.7Z" fill="#cbcbcb" stroke="#000" stroke-width="2.5"/>
<path d="M31.8 55.1 L30.8 54.6 L29.7 54.3 L28.5 54.2 L27.3 54.3 L26 54.6 L24.6 55 L23.3 55.6 L21.9 56.4 L20.6 57.4 L19.2 58.5 L17.9 59.7 L16.7 61 L15.5 62.5 L14.4 64.1 L13.4 65.7 L12.5 67.4 L11.7 69.1 L11 70.9 L10.5 72.6 L10 74.4 L9.8 76.1 L9.6 77.7 L9.6 79.3 L9.8 80.7 L10 82.1 L10.5 83.4 L11 84.5 L11.7 85.4 L12.5 86.3 L13.4 86.9 L21.8 91.7 L22.8 92.2 L23.9 92.5 L25.1 92.6 L26.3 92.5 L27.6 92.2 L28.9 91.8 L30.3 91.2 L31.7 90.4 L33 89.4 L34.3 88.4 L35.6 87.1 L36.9 85.8 L38.1 84.3 L39.2 82.7 L40.2 81.1 L41.1 79.4 L41.9 77.7 L42.6 75.9 L43.1 74.2 L43.5 72.4 L43.8 70.8 L44 69.1 L44 67.5 L43.8 66.1 L43.5 64.7 L43.1 63.4 L42.6 62.3 L41.9 61.4 L41.1 60.6 L40.2 59.9Z" fill="#c4c4c4" stroke="#000" stroke-width="2.2" stroke-linejoin="round"/>
<path d="M40.2 59.9 L39.2 59.5 L38.1 59.2 L36.9 59.1 L35.6 59.1 L34.3 59.4 L33 59.8 L31.7 60.5 L30.3 61.3 L28.9 62.2 L27.6 63.3 L26.3 64.5 L25.1 65.9 L23.9 67.3 L22.8 68.9 L21.8 70.5 L20.9 72.2 L20.1 74 L19.4 75.7 L18.8 77.5 L18.4 79.2 L18.1 80.9 L18 82.5 L18 84.1 L18.1 85.6 L18.4 87 L18.8 88.2 L19.4 89.3 L20.1 90.3 L20.9 91.1 L21.8 91.7" fill="none" stroke="#000" stroke-width="2"/>
<path d="M35.7 67.7 L34.9 67.4 L34 67.3 L33 67.4 L32 67.7 L31 68.2 L29.9 68.9 L28.9 69.8 L28 70.8 L27.1 71.9 L26.3 73.1 L25.6 74.4 L25.1 75.8 L24.7 77.1 L24.4 78.4 L24.4 79.6 L24.4 80.8 L24.7 81.8 L25.1 82.7 L25.6 83.4 L26.3 83.9 L51.7 98.5 L52.4 98.9 L53.3 99 L54.3 98.9 L55.3 98.6 L56.3 98.1 L57.4 97.4 L58.4 96.5 L59.3 95.5 L60.2 94.4 L61 93.1 L61.7 91.8 L62.2 90.5 L62.6 89.2 L62.9 87.9 L63 86.6 L62.9 85.5 L62.6 84.5 L62.2 83.6 L61.7 82.9 L61 82.4Z" fill="#c4c4c4" stroke="#000" stroke-width="2" stroke-linejoin="round"/>
<path d="M42.3 71.6 L41.1 71.4 L39.8 71.5 L38.4 72.1 L37 72.9 L35.7 74.1 L34.4 75.6 L33.4 77.2 L32.5 79 L31.8 80.8 L31.5 82.5 L31.4 84.2 L31.7 85.6 L32.2 86.8 L33 87.7" fill="none" stroke="#000" stroke-width="1.6"/>
<path d="M44.5 72.9 L43.3 72.6 L42 72.8 L40.7 73.3 L39.3 74.2 L37.9 75.4 L36.7 76.8 L35.6 78.5 L34.7 80.2 L34.1 82 L33.7 83.8 L33.6 85.5 L33.9 86.9 L34.4 88.1 L35.2 89" fill="none" stroke="#000" stroke-width="2.2"/>
<path d="M47.7 74.7 L46.5 74.5 L45.2 74.6 L43.8 75.2 L42.4 76 L41.1 77.2 L39.8 78.7 L38.7 80.3 L37.9 82.1 L37.2 83.9 L36.9 85.6 L36.8 87.3 L37 88.7 L37.6 89.9 L38.3 90.8" fill="none" stroke="#000" stroke-width="2.2"/>
<path d="M50.8 76.5 L49.7 76.3 L48.4 76.5 L47 77 L45.6 77.9 L44.3 79.1 L43 80.5 L41.9 82.1 L41 83.9 L40.4 85.7 L40 87.5 L40 89.1 L40.2 90.6 L40.7 91.8 L41.5 92.7" fill="none" stroke="#000" stroke-width="2.2"/>
<path d="M54 78.4 L52.9 78.1 L51.6 78.3 L50.2 78.8 L48.8 79.7 L47.4 80.9 L46.2 82.3 L45.1 84 L44.2 85.7 L43.6 87.5 L43.2 89.3 L43.2 90.9 L43.4 92.4 L43.9 93.6 L44.7 94.5" fill="none" stroke="#000" stroke-width="2.2"/>
<path d="M57.2 80.2 L56 80 L54.7 80.1 L53.4 80.7 L52 81.5 L50.6 82.7 L49.4 84.2 L48.3 85.8 L47.4 87.6 L46.8 89.4 L46.4 91.1 L46.3 92.8 L46.6 94.2 L47.1 95.4 L47.9 96.3" fill="none" stroke="#000" stroke-width="2.2"/>
<path d="M62.6 86.8 L62.5 85.8 L62.3 84.8 L61.9 84 L61.4 83.3 L60.8 82.8 L60 82.5 L59.2 82.4 L58.3 82.5 L57.3 82.8 L56.3 83.2 L55.4 83.9 L54.4 84.7 L53.5 85.7 L52.7 86.7 L51.9 87.9 L51.3 89.1 L50.8 90.4 L50.4 91.7 L50.2 92.9 L50.1 94.1 L50.2 95.2 L50.4 96.1 L50.8 97 L51.3 97.6 L51.9 98.1 L52.7 98.4 L53.5 98.5 L54.4 98.4 L55.4 98.1 L56.3 97.7 L57.3 97 L58.3 96.2 L59.2 95.2 L60 94.2 L60.8 93 L61.4 91.8 L61.9 90.5 L62.3 89.2 L62.5 88 L62.6 86.8Z" fill="#c4c4c4" stroke="#000" stroke-width="2.8"/>
<path d="M109.4 102.7 L109.2 100 L108.6 97.5 L107.6 95.4 L106.3 93.7 L104.7 92.5 L102.8 91.7 L100.7 91.4 L98.4 91.7 L96 92.4 L93.5 93.6 L91 95.3 L88.6 97.3 L86.3 99.8 L84.2 102.5 L82.3 105.4 L80.7 108.6 L79.4 111.8 L78.4 115 L77.8 118.1 L77.6 121.1 L77.8 123.8 L78.4 126.3 L79.4 128.4 L80.7 130.1 L82.3 131.3 L84.2 132.1 L86.3 132.4 L88.6 132.1 L91 131.4 L93.5 130.2 L96 128.5 L98.4 126.5 L100.7 124 L102.8 121.3 L104.7 118.4 L106.3 115.2 L107.6 112 L108.6 108.8 L109.2 105.7 L109.4 102.7Z" fill="#000" stroke="#000" stroke-width="2"/>
<path d="M112.4 104.4 L112.2 101.7 L111.6 99.2 L110.6 97.1 L109.3 95.4 L107.7 94.2 L105.8 93.4 L103.7 93.1 L101.4 93.4 L99 94.1 L96.5 95.3 L94 97 L91.6 99 L89.3 101.5 L87.2 104.2 L85.3 107.1 L83.7 110.3 L82.4 113.5 L81.4 116.7 L80.8 119.8 L80.6 122.8 L80.8 125.5 L81.4 128 L82.4 130.1 L83.7 131.8 L85.3 133 L87.2 133.8 L89.3 134.1 L91.6 133.8 L94 133.1 L96.5 131.9 L99 130.2 L101.4 128.2 L103.7 125.7 L105.8 123 L107.7 120.1 L109.3 116.9 L110.6 113.7 L111.6 110.5 L112.2 107.4 L112.4 104.4Z" fill="#c4c4c4" stroke="#000" stroke-width="2"/>
<path d="M104.8 108.7 L104.7 107.2 L104.4 105.9 L103.9 104.8 L103.2 103.9 L102.3 103.2 L101.3 102.8 L100.1 102.6 L98.9 102.7 L97.5 103.1 L96.2 103.8 L94.9 104.7 L93.5 105.8 L92.3 107.1 L91.1 108.6 L90.1 110.2 L89.2 111.9 L88.5 113.6 L88 115.4 L87.7 117.1 L87.6 118.7 L87.7 120.2 L88 121.5 L88.5 122.6 L89.2 123.5 L90.1 124.2 L91.1 124.6 L92.3 124.8 L93.5 124.7 L94.9 124.3 L96.2 123.6 L97.5 122.7 L98.9 121.6 L100.1 120.3 L101.3 118.8 L102.3 117.2 L103.2 115.5 L103.9 113.8 L104.4 112 L104.7 110.3 L104.8 108.7Z" fill="#000" stroke="none"/>
<clipPath id="cw"><path d="M102.6 110 L102.5 108.9 L102.3 107.9 L101.9 107.1 L101.4 106.4 L100.7 105.9 L100 105.6 L99.1 105.5 L98.2 105.6 L97.2 105.8 L96.2 106.3 L95.2 107 L94.2 107.8 L93.3 108.8 L92.4 109.9 L91.7 111.1 L91 112.4 L90.5 113.6 L90.1 114.9 L89.9 116.2 L89.8 117.4 L89.9 118.5 L90.1 119.5 L90.5 120.3 L91 121 L91.7 121.5 L92.4 121.8 L93.3 121.9 L94.2 121.8 L95.2 121.6 L96.2 121.1 L97.2 120.4 L98.2 119.6 L99.1 118.6 L100 117.5 L100.7 116.3 L101.4 115 L101.9 113.8 L102.3 112.5 L102.5 111.2 L102.6 110Z"/></clipPath>
<g clip-path="url(#cw)">
<path d="M99.6 108.3 L99.5 107.2 L99.3 106.2 L98.9 105.4 L98.4 104.7 L97.7 104.2 L97 103.9 L96.1 103.8 L95.2 103.9 L94.2 104.1 L93.2 104.6 L92.2 105.3 L91.2 106.1 L90.3 107.1 L89.4 108.2 L88.7 109.4 L88 110.7 L87.5 111.9 L87.1 113.2 L86.9 114.5 L86.8 115.7 L86.9 116.8 L87.1 117.8 L87.5 118.6 L88 119.3 L88.7 119.8 L89.4 120.1 L90.3 120.2 L91.2 120.1 L92.2 119.9 L93.2 119.4 L94.2 118.7 L95.2 117.9 L96.1 116.9 L97 115.8 L97.7 114.6 L98.4 113.3 L98.9 112.1 L99.3 110.8 L99.5 109.5 L99.6 108.3Z" fill="#fff" stroke="none"/>
</g>
<path d="M133.3 124.5 L133.3 360.2" stroke="#000" stroke-width="1.3" fill="none" />
<path d="M295.3 33.8 L295.3 251.7" stroke="#000" stroke-width="1.3" fill="none" />
<path d="M240.7 68.6 L281.9 44.9" stroke="#000" stroke-width="1.3" fill="none" />
<path d="M295.3 37.1 L284.1 48.7 L279.6 41 Z" fill="#000"/>
<path d="M186.4 100 L146.7 122.9" stroke="#000" stroke-width="1.3" fill="none" />
<path d="M133.3 130.6 L144.5 119 L149 126.8 Z" fill="#000"/>
<path d="M163.9 141.4 L163.9 329.9" stroke="#000" stroke-width="1.3" fill="none" />
<path d="M263.3 86.8 L263.3 273" stroke="#000" stroke-width="1.3" fill="none" />
<path d="M288.6 75.9 L276.7 82.7" stroke="#000" stroke-width="1.3" fill="none" />
<path d="M263.3 90.5 L274.5 78.9 L279 86.6 Z" fill="#000"/>
<path d="M141.7 160.7 L150.5 155.6" stroke="#000" stroke-width="1.3" fill="none" />
<path d="M163.9 147.9 L152.7 159.5 L148.2 151.7 Z" fill="#000"/>
<path d="M177.1 169.1 L177.1 287" stroke="#000" stroke-width="1.3" fill="none" />
<path d="M251.8 127 L251.8 244.1" stroke="#000" stroke-width="1.3" fill="none" />
<path d="M274.7 118.3 L265.2 123.7" stroke="#000" stroke-width="1.3" fill="none" />
<path d="M251.8 131.5 L263 119.9 L267.5 127.6 Z" fill="#000"/>
<path d="M153.1 188.5 L163.7 182.4" stroke="#000" stroke-width="1.3" fill="none" />
<path d="M177.1 174.6 L165.9 186.3 L161.4 178.5 Z" fill="#000"/>
<path d="M303.9 149.6 L360.1 118.8" stroke="#000" stroke-width="1.3" fill="none" />
<path d="M308.9 155.4 L365.2 124.3" stroke="#000" stroke-width="1.3" fill="none" />
<path d="M327.3 109.4 L338.1 115.1" stroke="#000" stroke-width="1.3" fill="none" />
<path d="M351.8 122.3 L336 119.1 L340.2 111.1 Z" fill="#000"/>
<path d="M386.4 142.7 L374 135.4" stroke="#000" stroke-width="1.3" fill="none" />
<path d="M360.6 127.6 L376.3 131.5 L371.7 139.3 Z" fill="#000"/>
<path d="M353.1 192.4 L325.3 192.4 L300.5 233.5" fill="none" stroke="#000" stroke-width="1.3"/>
<path d="M352.6 232 L327.3 232 L327.3 353.4" fill="none" stroke="#000" stroke-width="1.3"/>
<path d="M34.6 329.2 L34.6 321.8" stroke="#000" stroke-width="1.3" fill="none" />
<path d="M34.6 306.3 L39.1 321.8 L30.1 321.8 Z" fill="#000"/>
<path d="M34.6 372.1 L34.6 460" stroke="#000" stroke-width="1.3" fill="none" />
<path d="M34.6 455 L34.6 455.1" stroke="#000" stroke-width="1.3" fill="none" />
<path d="M34.6 470.6 L30.1 455.1 L39.1 455.1 Z" fill="#000"/>
<path d="M28.4 308.8 L109.2 263.6" stroke="#000" stroke-width="1.3" fill="none" />
<path d="M27.7 474.6 L113.5 425.2" stroke="#000" stroke-width="1.3" fill="none" />
<path d="M71.9 389.7 L71.9 385.1" stroke="#000" stroke-width="1.3" fill="none" />
<path d="M71.9 369.6 L76.4 385.1 L67.4 385.1 Z" fill="#000"/>
<path d="M71.9 428.8 L71.9 433.7" stroke="#000" stroke-width="1.3" fill="none" />
<path d="M71.9 449.2 L67.4 433.7 L76.4 433.7 Z" fill="#000"/>
<path d="M68.1 371.1 L178.3 307.4" stroke="#000" stroke-width="1.3" fill="none" />
<path d="M56.8 484.3 L48.2 479.3" stroke="#000" stroke-width="1.3" fill="none" />
<path d="M34.8 471.6 L50.5 475.5 L46 483.2 Z" fill="#000"/>
<path d="M111 517.5 L119 522.1" stroke="#000" stroke-width="1.3" fill="none" />
<path d="M132.4 529.9 L116.7 526 L121.2 518.2 Z" fill="#000"/>
<path d="M127.4 532.6 L207 486.6" stroke="#000" stroke-width="1.3" fill="none" />
<path d="M146.3 476.3 L246.1 418.7" stroke="#000" stroke-width="1.3" fill="none" />
<path d="M128.7 463.3 L135.4 467.1" stroke="#000" stroke-width="1.3" fill="none" />
<path d="M148.8 474.9 L133.1 471 L137.6 463.2 Z" fill="#000"/>
<path d="M210.8 509.2 L202.8 504.6" stroke="#000" stroke-width="1.3" fill="none" />
<path d="M189.4 496.8 L205.1 500.7 L200.6 508.5 Z" fill="#000"/>
<path d="M191.9 427.2 L280.8 478.6" stroke="#000" stroke-width="1.3" fill="none" />
<path d="M215.8 486 L275.2 520.2" stroke="#000" stroke-width="1.3" fill="none" />
<path d="M217.1 511.5 L225.2 506.9" stroke="#000" stroke-width="1.3" fill="none" />
<path d="M238.6 499.1 L227.4 510.7 L222.9 503 Z" fill="#000"/>
<path d="M319.4 451.9 L290.4 468.6" stroke="#000" stroke-width="1.3" fill="none" />
<path d="M277 476.4 L288.2 464.7 L292.7 472.5 Z" fill="#000"/>
<path d="M376.1 419 L385.4 413.6" stroke="#000" stroke-width="1.3" fill="none" />
<path d="M398.8 405.9 L387.6 417.5 L383.1 409.7 Z" fill="#000"/>
<path d="M309.3 354.2 L405.1 409.5" stroke="#000" stroke-width="1.3" fill="none" />
<path d="M282.8 397.9 L354.7 356.4" stroke="#000" stroke-width="1.3" fill="none" />
<path d="M324.4 489.5 L286.6 511.3" stroke="#000" stroke-width="1.3" fill="none" />
<path d="M273.2 519.1 L284.4 507.4 L288.9 515.2 Z" fill="#000"/>
<path d="M383.7 454.4 L446.4 418.2" stroke="#000" stroke-width="1.3" fill="none" />
<path d="M459.8 410.4 L448.6 422.1 L444.1 414.3 Z" fill="#000"/>
<path d="M403.3 377.8 L465.6 413.8" stroke="#000" stroke-width="1.3" fill="none" />
<path d="M412.6 563.8 L478.2 526.8" stroke="#000" stroke-width="1.3" fill="none" />
<path d="M411.4 602.4 L453 578.5" stroke="#000" stroke-width="1.3" fill="none" />
<path d="M570.2 435.3 L594 421.6" stroke="#000" stroke-width="1.3" fill="none" />
<path d="M56.3 90.5 L97.5 114.2" stroke="#000" stroke-width="1.3" fill="none" />
<path d="M103.4 119.1 L103.4 124.6" stroke="#000" stroke-width="1.3" fill="none" />
<path d="M103.5 137V185 M103.5 194.3V202.8 M103.5 211.4V260.2 M103.5 270V280.4 M103.5 284.6 V315 L121 324.3" stroke="#000" stroke-width="1.3" fill="none"/>
<path d="M103.5 244.3 L149.5 217.8" stroke="#000" stroke-width="1.3" fill="none" />
<path d="M154.5 214.9 L160.5 211.4" stroke="#000" stroke-width="1.3" fill="none" />
<path d="M168 207.1 L202.3 187.3" stroke="#000" stroke-width="1.3" fill="none" />
<path d="M202.3 187.3 L222.5 199" stroke="#000" stroke-width="1.3" fill="none" />
<path d="M232.5 204.7 L276.6 230.2" stroke="#000" stroke-width="1.3" fill="none" />
<path d="M284.1 234.5 L290 237.9" stroke="#000" stroke-width="1.3" fill="none" />
<path d="M143 341 L186.5 366.2" stroke="#000" stroke-width="1.3" fill="none" />
<path d="M301.4 244.1 L342.2 267.7" stroke="#000" stroke-width="1.3" fill="none" />
<path d="M290 237.5 L301.4 244.1" stroke="#000" stroke-width="1.3" fill="none" />
<path d="M305.1 432.6 L323.2 443.1" stroke="#000" stroke-width="1.3" fill="none" />
<path d="M388.7 480.9 L415.5 496.3" stroke="#000" stroke-width="1.3" fill="none" />
<path d="M468.6 337 L509.7 360.7" stroke="#000" stroke-width="1.3" fill="none" />
<path d="M516 364.4 L523.6 368.8" stroke="#000" stroke-width="1.3" fill="none" />
<path d="M531.4 373.3 L574 397.9" stroke="#000" stroke-width="1.3" fill="none" />
<g font-size="32.5" stroke="#fff" stroke-width="0.75">
<text x="51.6" y="63.9" textLength="107.4" lengthAdjust="spacingAndGlyphs">M3 (4x)</text>
<text x="197" y="95.3" textLength="37.5" lengthAdjust="spacingAndGlyphs">37</text>
<text x="180.3" y="129.8" textLength="66.3" lengthAdjust="spacingAndGlyphs">22,5</text>
<text x="196.1" y="166.8" textLength="34.2" lengthAdjust="spacingAndGlyphs">17</text>
<text x="362.5" y="116.1" textLength="43.7" lengthAdjust="spacingAndGlyphs">1,5</text>
<text x="360.6" y="200.8" textLength="73.2" lengthAdjust="spacingAndGlyphs">ø 3,5</text>
<text x="359.9" y="241.6" textLength="107.5" lengthAdjust="spacingAndGlyphs">4,5x9,5</text>
<text x="4" y="362" textLength="65.5" lengthAdjust="spacingAndGlyphs">32,5</text>
<text x="39.8" y="421.3" textLength="63.9" lengthAdjust="spacingAndGlyphs">17,5</text>
<text x="48.6" y="513.7" textLength="65.4" lengthAdjust="spacingAndGlyphs">22,5</text>
<text x="124.6" y="506.6" textLength="47.6" lengthAdjust="spacingAndGlyphs">7,5</text>
<text x="249.6" y="501.2" textLength="17.2" lengthAdjust="spacingAndGlyphs">7</text>
<text x="322.7" y="450.2" textLength="65.2" lengthAdjust="spacingAndGlyphs">27,5</text>
<text x="321.9" y="484.7" textLength="65.3" lengthAdjust="spacingAndGlyphs">42,5</text>
<text x="518.1" y="457.9" textLength="48.4" lengthAdjust="spacingAndGlyphs">M3</text>
<text x="311.5" y="575.2" textLength="92.4" lengthAdjust="spacingAndGlyphs">ø 30,6</text>
<text x="311.5" y="616.1" textLength="91.4" lengthAdjust="spacingAndGlyphs">ø 44,5</text>
</g>
</svg>
</body></html>
